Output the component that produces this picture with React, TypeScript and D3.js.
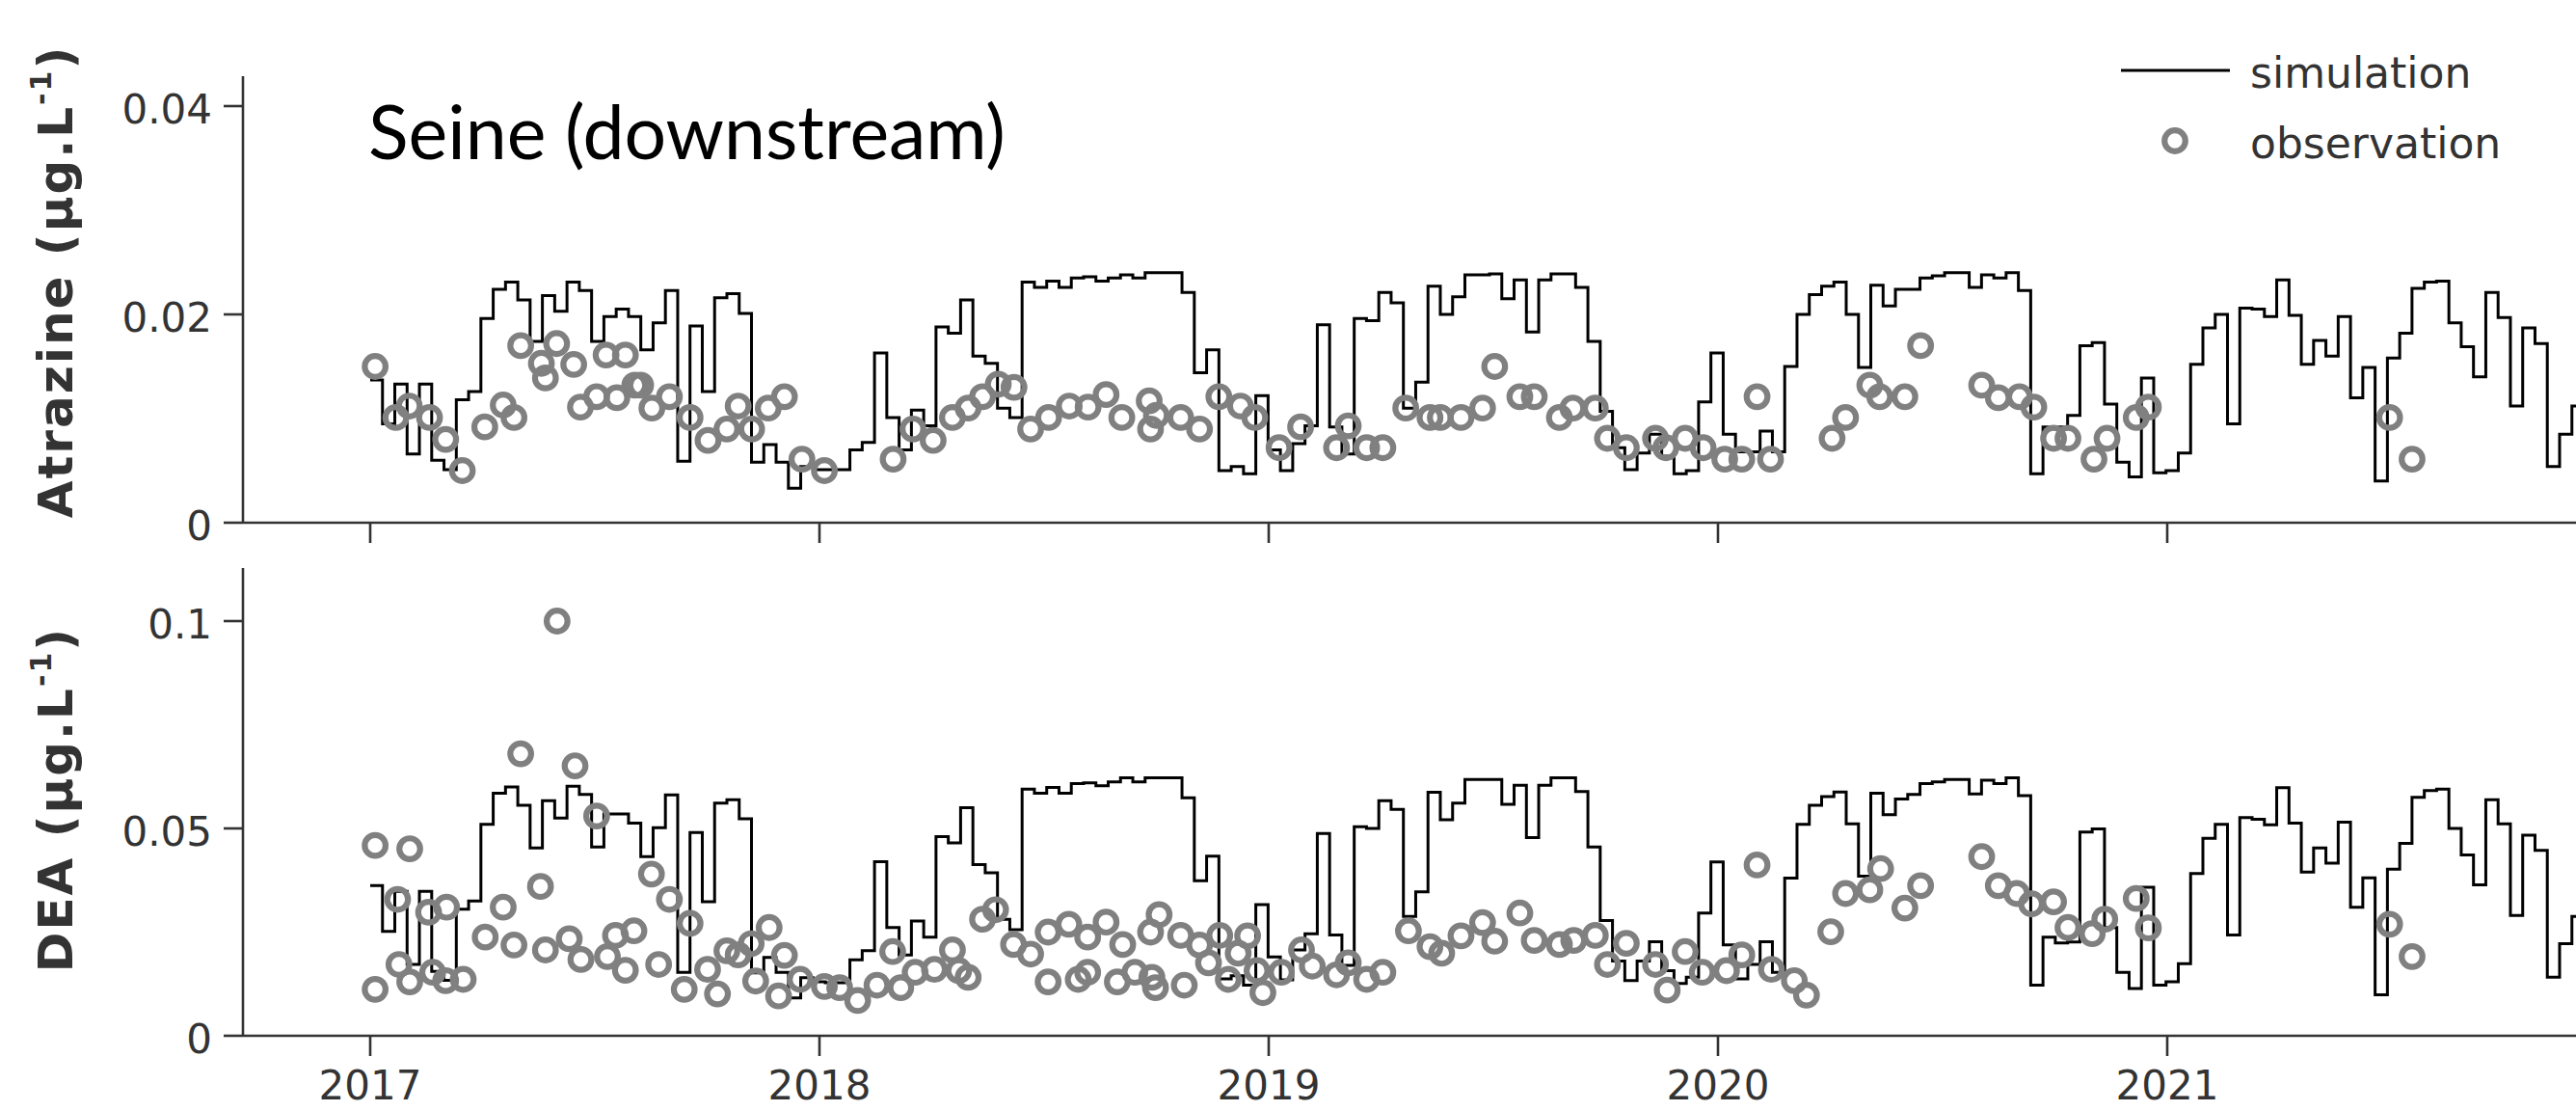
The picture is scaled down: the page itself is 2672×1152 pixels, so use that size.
import React from 'react';
import * as d3 from 'd3';

// ---------- axis / label data ----------
const yearTicks = [2017, 2018, 2019, 2020, 2021];
const atzTicks = [0, 0.02, 0.04];
const deaTicks = [0, 0.05, 0.1];
const titleText = 'Seine (downstream)';
const legendLabels = ['simulation', 'observation'];

// simulation: 10-day time step starting 2017-01-01
const SIM_START = 2017;
const SIM_STEP_DAYS = 10;

// ---------- Atrazine simulation (µg/L), one value per 10-day step ----------
const atzSim2017 = [
  0.0137, 0.0095, 0.0133, 0.0066, 0.0133, 0.0060, 0.0051, 0.0118, 0.0126, 0.0196,
  0.0224, 0.0231, 0.0214, 0.0174, 0.0218, 0.0203, 0.0231, 0.0223, 0.0174, 0.0198,
  0.0205, 0.0198, 0.0166, 0.0192, 0.0223, 0.0059, 0.0189, 0.0126, 0.0216, 0.0220,
  0.0201, 0.0058, 0.0075, 0.0058, 0.0033, 0.0054, 0.0051,
];
const atzSim2018 = [
  0.0051, 0.0051, 0.0070, 0.0077, 0.0163, 0.0101, 0.0070, 0.0108, 0.0093, 0.0188,
  0.0182, 0.0214, 0.0160, 0.0153, 0.0110, 0.0101, 0.0231, 0.0226, 0.0232, 0.0226,
  0.0235, 0.0236, 0.0232, 0.0235, 0.0238, 0.0235, 0.0240, 0.0240, 0.0240, 0.0221,
  0.0144, 0.0166, 0.0050, 0.0054, 0.0047, 0.0122,
];
const atzSim2019 = [
  0.0070, 0.0050, 0.0076, 0.0093, 0.0190, 0.0092, 0.0066, 0.0196, 0.0194, 0.0221,
  0.0211, 0.0110, 0.0135, 0.0227, 0.0200, 0.0217, 0.0238, 0.0238, 0.0239, 0.0215,
  0.0233, 0.0183, 0.0233, 0.0239, 0.0239, 0.0226, 0.0174, 0.0107, 0.0072, 0.0051,
  0.0067, 0.0085, 0.0064, 0.0047, 0.0050, 0.0116, 0.0163,
];
const atzSim2020 = [
  0.0085, 0.0068, 0.0068, 0.0088, 0.0068, 0.0150, 0.0200, 0.0219, 0.0227, 0.0231,
  0.0200, 0.0149, 0.0228, 0.0208, 0.0224, 0.0224, 0.0235, 0.0237, 0.0240, 0.0240,
  0.0226, 0.0238, 0.0235, 0.0240, 0.0223, 0.0047, 0.0092, 0.0092, 0.0103, 0.0170,
  0.0173, 0.0114, 0.0058, 0.0044, 0.0139, 0.0048, 0.0050,
];
const atzSim2021 = [
  0.0067, 0.0152, 0.0187, 0.0200, 0.0095, 0.0206, 0.0205, 0.0198, 0.0233, 0.0199,
  0.0152, 0.0175, 0.0160, 0.0198, 0.0120, 0.0149, 0.0040, 0.0158, 0.0182, 0.0225,
  0.0231, 0.0232, 0.0192, 0.0169, 0.0140, 0.0221, 0.0197, 0.0112, 0.0187, 0.0172,
  0.0054, 0.0085, 0.0112,
];

// ---------- DEA simulation (µg/L) ----------
const deaSim2017 = [
  0.0362, 0.0252, 0.0348, 0.0172, 0.0348, 0.0155, 0.0134, 0.0305, 0.0325, 0.0510,
  0.0585, 0.0600, 0.0556, 0.0453, 0.0567, 0.0525, 0.0602, 0.0582, 0.0455, 0.0535,
  0.0535, 0.0513, 0.0432, 0.0502, 0.0581, 0.0153, 0.0490, 0.0323, 0.0561, 0.0569,
  0.0523, 0.0152, 0.0189, 0.0153, 0.0091, 0.0140, 0.0130,
];
const deaSim2018 = [
  0.0128, 0.0128, 0.0183, 0.0205, 0.0420, 0.0261, 0.0195, 0.0277, 0.0238, 0.0480,
  0.0465, 0.0550, 0.0413, 0.0393, 0.0281, 0.0256, 0.0595, 0.0585, 0.0599, 0.0585,
  0.0608, 0.0610, 0.0603, 0.0612, 0.0622, 0.0612, 0.0622, 0.0622, 0.0622, 0.0574,
  0.0374, 0.0433, 0.0137, 0.0145, 0.0122, 0.0316,
];
const deaSim2019 = [
  0.0190, 0.0135, 0.0207, 0.0246, 0.0488, 0.0243, 0.0170, 0.0504, 0.0500, 0.0567,
  0.0546, 0.0288, 0.0347, 0.0587, 0.0521, 0.0561, 0.0618, 0.0618, 0.0618, 0.0558,
  0.0604, 0.0478, 0.0604, 0.0622, 0.0622, 0.0589, 0.0455, 0.0278, 0.0180, 0.0133,
  0.0180, 0.0227, 0.0157, 0.0126, 0.0141, 0.0296, 0.0419,
];
const deaSim2020 = [
  0.0219, 0.0137, 0.0172, 0.0227, 0.0153, 0.0380, 0.0510, 0.0556, 0.0577, 0.0588,
  0.0511, 0.0385, 0.0585, 0.0533, 0.0571, 0.0582, 0.0608, 0.0612, 0.0618, 0.0618,
  0.0583, 0.0616, 0.0608, 0.0622, 0.0579, 0.0122, 0.0238, 0.0224, 0.0226, 0.0491,
  0.0499, 0.0261, 0.0153, 0.0114, 0.0358, 0.0122, 0.0130,
];
const deaSim2021 = [
  0.0174, 0.0391, 0.0476, 0.0510, 0.0243, 0.0526, 0.0522, 0.0509, 0.0598, 0.0513,
  0.0395, 0.0453, 0.0416, 0.0515, 0.0310, 0.0381, 0.0099, 0.0402, 0.0464, 0.0575,
  0.0591, 0.0595, 0.0500, 0.0436, 0.0364, 0.0569, 0.0511, 0.0290, 0.0484, 0.0447,
  0.0141, 0.0222, 0.0288,
];

// ---------- Atrazine observations [decimal year, µg/L] ----------
const atzObs2017 = [
  [2017.011, 0.0150], [2017.057, 0.0101], [2017.087, 0.0112], [2017.132, 0.0101], [2017.168, 0.0080],
  [2017.205, 0.0050], [2017.255, 0.0092], [2017.296, 0.0113], [2017.320, 0.0101], [2017.335, 0.0170],
  [2017.381, 0.0153], [2017.390, 0.0139], [2017.415, 0.0172], [2017.453, 0.0152], [2017.468, 0.0111],
  [2017.504, 0.0121], [2017.525, 0.0161], [2017.549, 0.0120], [2017.568, 0.0161], [2017.589, 0.0132],
  [2017.602, 0.0132], [2017.627, 0.0110], [2017.666, 0.0121], [2017.712, 0.0101], [2017.752, 0.0079],
  [2017.794, 0.0090], [2017.819, 0.0112], [2017.849, 0.0090], [2017.886, 0.0110], [2017.922, 0.0121],
  [2017.961, 0.0061],
];
const atzObs2018 = [
  [2018.011, 0.0050], [2018.164, 0.0061], [2018.208, 0.0090], [2018.253, 0.0079], [2018.296, 0.0101],
  [2018.331, 0.0110], [2018.363, 0.0121], [2018.398, 0.0133], [2018.433, 0.0130], [2018.470, 0.0090],
  [2018.510, 0.0101], [2018.556, 0.0112], [2018.598, 0.0111], [2018.638, 0.0123], [2018.673, 0.0101],
  [2018.734, 0.0117], [2018.737, 0.0090], [2018.750, 0.0103], [2018.804, 0.0101], [2018.846, 0.0090],
  [2018.889, 0.0121], [2018.937, 0.0112], [2018.969, 0.0101],
];
const atzObs2019 = [
  [2019.023, 0.0072], [2019.071, 0.0092], [2019.151, 0.0072], [2019.177, 0.0093], [2019.218, 0.0072],
  [2019.254, 0.0072], [2019.305, 0.0110], [2019.359, 0.0101], [2019.382, 0.0101], [2019.428, 0.0101],
  [2019.476, 0.0110], [2019.503, 0.0150], [2019.559, 0.0121], [2019.591, 0.0121], [2019.647, 0.0101],
  [2019.677, 0.0110], [2019.727, 0.0110], [2019.754, 0.0081], [2019.796, 0.0072], [2019.861, 0.0081],
  [2019.884, 0.0072], [2019.927, 0.0081], [2019.967, 0.0072],
];
const atzObs2020 = [
  [2020.015, 0.0061], [2020.053, 0.0061], [2020.087, 0.0121], [2020.117, 0.0061], [2020.254, 0.0081],
  [2020.284, 0.0101], [2020.338, 0.0132], [2020.360, 0.0121], [2020.416, 0.0121], [2020.451, 0.0170],
  [2020.587, 0.0132], [2020.624, 0.0120], [2020.671, 0.0121], [2020.703, 0.0111], [2020.747, 0.0081],
  [2020.779, 0.0081], [2020.837, 0.0061], [2020.866, 0.0081], [2020.931, 0.0101], [2020.958, 0.0111],
];
const atzObs2021 = [[2021.495, 0.0101], [2021.545, 0.0061]];

// ---------- DEA observations [decimal year, µg/L] ----------
const deaObs2017 = [
  [2017.011, 0.0459], [2017.011, 0.0112], [2017.061, 0.0329], [2017.064, 0.0172], [2017.088, 0.0451],
  [2017.088, 0.0130], [2017.130, 0.0298], [2017.139, 0.0153], [2017.168, 0.0133], [2017.170, 0.0310],
  [2017.207, 0.0136], [2017.256, 0.0238], [2017.296, 0.0310], [2017.320, 0.0219], [2017.335, 0.0680],
  [2017.379, 0.0360], [2017.390, 0.0207], [2017.416, 0.1000], [2017.443, 0.0234], [2017.456, 0.0651],
  [2017.469, 0.0184], [2017.504, 0.0530], [2017.528, 0.0191], [2017.546, 0.0242], [2017.568, 0.0158],
  [2017.587, 0.0253], [2017.626, 0.0390], [2017.642, 0.0172], [2017.666, 0.0329], [2017.699, 0.0112],
  [2017.712, 0.0271], [2017.751, 0.0160], [2017.773, 0.0101], [2017.794, 0.0205], [2017.819, 0.0195],
  [2017.848, 0.0222], [2017.858, 0.0132], [2017.888, 0.0261], [2017.909, 0.0096], [2017.922, 0.0194],
  [2017.957, 0.0136],
];
const deaObs2018 = [
  [2018.011, 0.0119], [2018.045, 0.0116], [2018.085, 0.0085], [2018.128, 0.0122], [2018.163, 0.0203],
  [2018.181, 0.0116], [2018.213, 0.0153], [2018.256, 0.0160], [2018.296, 0.0207], [2018.310, 0.0157],
  [2018.331, 0.0141], [2018.363, 0.0281], [2018.392, 0.0304], [2018.432, 0.0220], [2018.470, 0.0197],
  [2018.509, 0.0250], [2018.509, 0.0130], [2018.555, 0.0269], [2018.576, 0.0136], [2018.597, 0.0238],
  [2018.597, 0.0153], [2018.638, 0.0274], [2018.663, 0.0130], [2018.675, 0.0220], [2018.702, 0.0153],
  [2018.737, 0.0250], [2018.740, 0.0141], [2018.748, 0.0116], [2018.756, 0.0292], [2018.804, 0.0242],
  [2018.812, 0.0122], [2018.846, 0.0219], [2018.866, 0.0176], [2018.891, 0.0242], [2018.910, 0.0136],
  [2018.932, 0.0199], [2018.953, 0.0241], [2018.974, 0.0157], [2018.987, 0.0104],
];
const deaObs2019 = [
  [2019.028, 0.0153], [2019.073, 0.0207], [2019.097, 0.0168], [2019.151, 0.0147], [2019.177, 0.0176],
  [2019.218, 0.0136], [2019.254, 0.0153], [2019.311, 0.0253], [2019.359, 0.0215], [2019.385, 0.0199],
  [2019.428, 0.0241], [2019.476, 0.0273], [2019.503, 0.0228], [2019.559, 0.0296], [2019.591, 0.0230],
  [2019.647, 0.0220], [2019.679, 0.0230], [2019.727, 0.0242], [2019.754, 0.0172], [2019.796, 0.0223],
  [2019.861, 0.0172], [2019.887, 0.0110], [2019.927, 0.0203], [2019.965, 0.0153],
];
const deaObs2020 = [
  [2020.019, 0.0157], [2020.053, 0.0195], [2020.087, 0.0412], [2020.119, 0.0160], [2020.170, 0.0133],
  [2020.197, 0.0098], [2020.251, 0.0251], [2020.284, 0.0343], [2020.338, 0.0352], [2020.362, 0.0403],
  [2020.416, 0.0308], [2020.451, 0.0362], [2020.587, 0.0432], [2020.624, 0.0362], [2020.665, 0.0343],
  [2020.698, 0.0318], [2020.747, 0.0323], [2020.779, 0.0261], [2020.833, 0.0246], [2020.861, 0.0281],
  [2020.931, 0.0331], [2020.958, 0.0260],
];
const deaObs2021 = [[2021.495, 0.0269], [2021.545, 0.0191]];

// ---------- assembled series ----------
const atzSim = [...atzSim2017, ...atzSim2018, ...atzSim2019, ...atzSim2020, ...atzSim2021];
const deaSim = [...deaSim2017, ...deaSim2018, ...deaSim2019, ...deaSim2020, ...deaSim2021];
const atzObs = [...atzObs2017, ...atzObs2018, ...atzObs2019, ...atzObs2020, ...atzObs2021];
const deaObs = [...deaObs2017, ...deaObs2018, ...deaObs2019, ...deaObs2020, ...deaObs2021];

const W = 2672;
const H = 1152;
const AXIS_X = 252;
const AXIS_COLOR = '#333';
const TEXT_COLOR = '#333';
const OBS_COLOR = '#808080';
const TICK_FONT = "'DejaVu Sans', Verdana, sans-serif";

const x = d3.scaleLinear().domain([2017, 2021]).range([384, 2248]);

function simPoints(vals: number[]): [number, number][] {
  const pts: [number, number][] = vals.map((v, k) => [SIM_START + (k * SIM_STEP_DAYS) / 365.25, v]);
  pts.push([SIM_START + (vals.length * SIM_STEP_DAYS) / 365.25, vals[vals.length - 1]]);
  return pts;
}

type PanelProps = {
  y: d3.ScaleLinear<number, number>;
  axisTop: number;
  ticks: number[];
  sim: number[];
  obs: number[][];
  label: string;
  labelCenter: number;
};

function Panel({ y, axisTop, ticks, sim, obs, label, labelCenter }: PanelProps) {
  const y0 = y(0);
  const line = d3
    .line<[number, number]>()
    .x((d) => x(d[0]))
    .y((d) => y(d[1]))
    .curve(d3.curveStepAfter);
  const path = line(simPoints(sim)) || '';
  return (
    <g>
      {/* simulation */}
      <path d={path} fill="none" stroke="#000" strokeWidth={3} strokeLinejoin="miter" />
      {/* observations */}
      {obs.map((d, i) => (
        <circle key={i} cx={x(d[0])} cy={y(d[1])} r={10.8} fill="none" stroke={OBS_COLOR} strokeWidth={6.2} />
      ))}
      {/* axes */}
      <line x1={AXIS_X} x2={AXIS_X} y1={axisTop} y2={y0 + 1} stroke={AXIS_COLOR} strokeWidth={2.6} />
      <line x1={AXIS_X} x2={W} y1={y0} y2={y0} stroke={AXIS_COLOR} strokeWidth={2.6} />
      {ticks.map((t) => (
        <g key={t}>
          <line x1={AXIS_X - 20} x2={AXIS_X} y1={y(t)} y2={y(t)} stroke={AXIS_COLOR} strokeWidth={2.6} />
          <text
            x={220}
            y={y(t) + 18}
            textAnchor="end"
            fontFamily={TICK_FONT}
            fontSize={42}
            fill={TEXT_COLOR}
          >
            {String(t)}
          </text>
        </g>
      ))}
      {yearTicks.map((yr) => (
        <line key={yr} x1={x(yr)} x2={x(yr)} y1={y0} y2={y0 + 21} stroke={AXIS_COLOR} strokeWidth={2.6} />
      ))}
      {/* y-axis title */}
      <text
        transform={`translate(75,${labelCenter}) rotate(-90)`}
        textAnchor="middle"
        fontFamily="'DejaVu Sans', Verdana, sans-serif"
        fontWeight="bold"
        fontSize={50}
        letterSpacing={2}
        fill={TEXT_COLOR}
      >
        {label} (µg.L
        <tspan dy={-22} fontSize={30}>
          -1
        </tspan>
        <tspan dy={22}>)</tspan>
      </text>
    </g>
  );
}

export default function App() {
  const yAtz = d3.scaleLinear().domain([0, 0.04]).range([542, 110]);
  const yDea = d3.scaleLinear().domain([0, 0.1]).range([1074, 644]);
  return (
    <svg
      width={W}
      height={H}
      viewBox={`0 0 ${W} ${H}`}
      style={{ position: 'absolute', left: 0, top: 0, display: 'block', background: '#fff' }}
    >
      <rect x={0} y={0} width={W} height={H} fill="#fff" />
      <Panel y={yAtz} axisTop={79} ticks={atzTicks} sim={atzSim} obs={atzObs} label="Atrazine" labelCenter={292} />
      <Panel y={yDea} axisTop={589} ticks={deaTicks} sim={deaSim} obs={deaObs} label="DEA" labelCenter={829} />

      {/* x tick labels (bottom panel only) */}
      {yearTicks.map((yr) => (
        <text key={yr} x={x(yr)} y={1140} textAnchor="middle" fontFamily={TICK_FONT} fontSize={42} fill={TEXT_COLOR}>
          {yr}
        </text>
      ))}

      {/* title */}
      <text x={382} y={165} fontFamily="Lato, 'Open Sans', sans-serif" fontSize={77} fill="#000">
        {titleText}
      </text>

      {/* legend */}
      <line x1={2200} x2={2313} y1={73} y2={73} stroke="#000" strokeWidth={3} />
      <text x={2334} y={91} fontFamily={TICK_FONT} fontSize={44} fill={TEXT_COLOR}>
        {legendLabels[0]}
      </text>
      <circle cx={2256} cy={146} r={10.8} fill="none" stroke={OBS_COLOR} strokeWidth={6.2} />
      <text x={2334} y={164} fontFamily={TICK_FONT} fontSize={44} fill={TEXT_COLOR}>
        {legendLabels[1]}
      </text>
    </svg>
  );
}
